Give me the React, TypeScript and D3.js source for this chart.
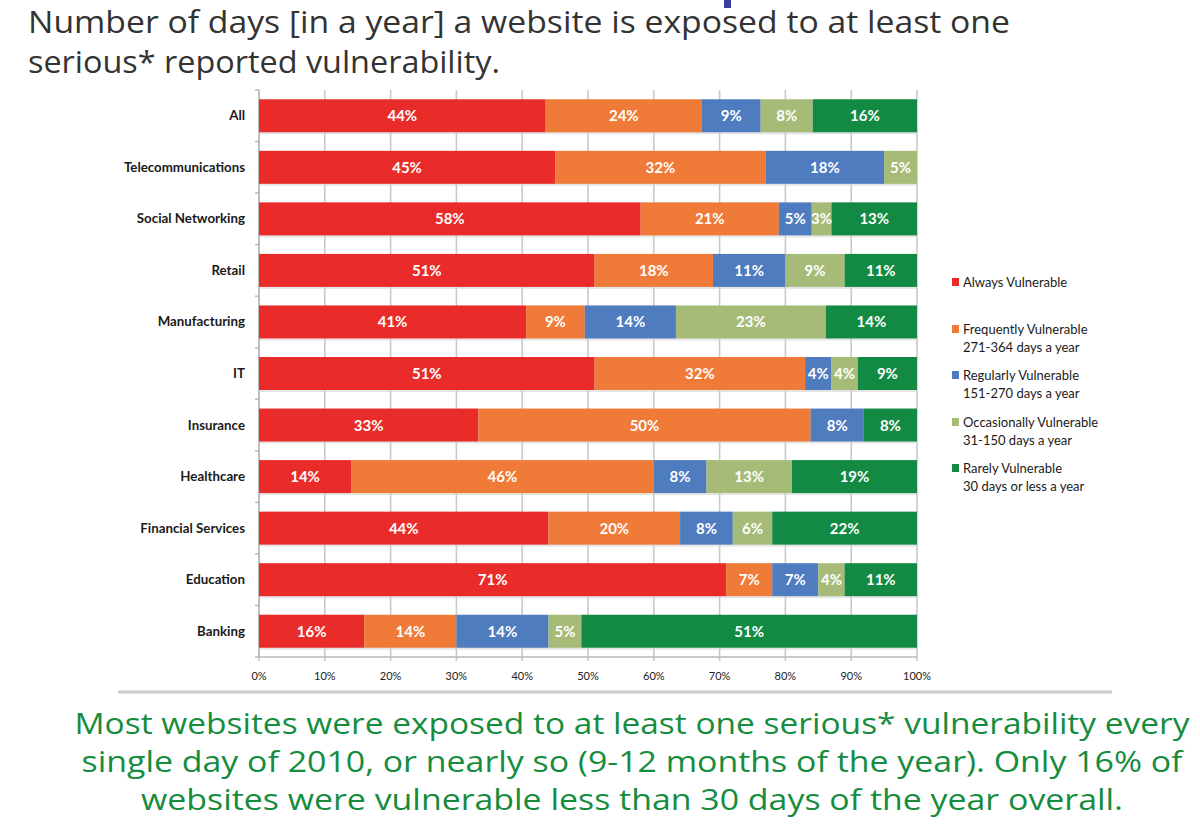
import React from "react";
import * as d3 from "d3";

const categories = [
  "All",
  "Telecommunications",
  "Social Networking",
  "Retail",
  "Manufacturing",
  "IT",
  "Insurance",
  "Healthcare",
  "Financial Services",
  "Education",
  "Banking",
];

const seriesKeys = ["always", "frequently", "regularly", "occasionally", "rarely"];

const always = [44, 45, 58, 51, 41, 51, 33, 14, 44, 71, 16];
const frequently = [24, 32, 21, 18, 9, 32, 50, 46, 20, 7, 14];
const regularly = [9, 18, 5, 11, 14, 4, 8, 8, 8, 7, 14];
const occasionally = [8, 5, 3, 9, 23, 4, 0, 13, 6, 4, 5];
const rarely = [16, 0, 13, 11, 14, 9, 8, 19, 22, 11, 51];

const legendLines = [
  ["Always Vulnerable"],
  ["Frequently Vulnerable", "271-364 days a year"],
  ["Regularly Vulnerable", "151-270 days a year"],
  ["Occasionally Vulnerable", "31-150 days a year"],
  ["Rarely Vulnerable", "30 days or less a year"],
];

const colors = ["#e92c29", "#f07a37", "#4f7bbf", "#a6bb78", "#128a44"];

const xTicks = [0, 0.1, 0.2, 0.3, 0.4, 0.5, 0.6, 0.7, 0.8, 0.9, 1];

const titleLines = [
  "Number of days [in a year] a website is exposed to at least one",
  "serious* reported vulnerability.",
];

const footerLines = [
  "Most websites were exposed to at least one serious* vulnerability every",
  "single day of 2010, or nearly so (9-12 months of the year). Only 16% of",
  "websites were vulnerable less than 30 days of the year overall.",
];

export default function App() {
  const W = 1200;
  const H = 831;
  const rows = categories.map((c, i) => ({
    category: c,
    always: always[i],
    frequently: frequently[i],
    regularly: regularly[i],
    occasionally: occasionally[i],
    rarely: rarely[i],
  }));
  const stack = d3.stack<any>().keys(seriesKeys).offset(d3.stackOffsetExpand);
  const stacked = stack(rows);

  const x = d3.scaleLinear().domain([0, 1]).range([259, 917]);
  const y = d3
    .scaleBand<string>()
    .domain(categories)
    .range([90, 657])
    .paddingInner(0.36)
    .paddingOuter(0.18);

  const font = "Lato, 'Open Sans', sans-serif";
  const gridColor = "#c9c9c9";
  const bandBounds = categories.map((_, i) => 90 + i * y.step()).concat([657]);

  return (
    <svg width={W} height={H} style={{ display: "block", position: "absolute", left: 0, top: 0 }}>
      <rect x={0} y={0} width={W} height={H} fill="#ffffff" />
      {/* cut-off mark at top */}
      <rect x={724} y={0} width={7} height={8} fill="#3a3f9e" />
      {/* title */}
      <text x={28} y={33} fontFamily="'Open Sans', sans-serif" fontSize={31} fill="#333333" textLength={982} lengthAdjust="spacingAndGlyphs">
        {titleLines[0]}
      </text>
      <text x={28} y={73} fontFamily="'Open Sans', sans-serif" fontSize={31} fill="#333333" textLength={472} lengthAdjust="spacingAndGlyphs">
        {titleLines[1]}
      </text>

      {/* gridlines */}
      {xTicks.map((t) => (
        <line key={"g" + t} x1={x(t)} x2={x(t)} y1={90} y2={661} stroke={gridColor} strokeWidth={1.6} />
      ))}
      {/* left axis */}
      <line x1={259} x2={259} y1={90} y2={657} stroke="#b8b8b8" strokeWidth={1.5} />
      {bandBounds.map((b, i) => (
        <line key={"yt" + i} x1={255} x2={259} y1={b} y2={b} stroke="#b8b8b8" strokeWidth={1.5} />
      ))}
      {/* bottom axis */}
      <line x1={259} x2={917} y1={657} y2={657} stroke="#b8b8b8" strokeWidth={1.5} />

      {/* bar shadows */}
      {categories.map((c) => (
        <rect key={"sh" + c} x={x(0)} y={(y(c) as number) + 2} width={x(1) - x(0)} height={y.bandwidth()} fill="#d4d4d4" opacity={0.6} />
      ))}

      {/* bars */}
      {stacked.map((s, si) =>
        s.map((d, i) => {
          const w = x(d[1]) - x(d[0]);
          if (w <= 0) return null;
          return (
            <rect
              key={si + "-" + i}
              x={x(d[0])}
              y={y(categories[i]) as number}
              width={w}
              height={y.bandwidth()}
              fill={colors[si]}
            />
          );
        })
      )}
      {/* bar labels */}
      {stacked.map((s, si) =>
        s.map((d, i) => {
          const v = (rows[i] as any)[seriesKeys[si]];
          if (!v) return null;
          const cx = (x(d[0]) + x(d[1])) / 2;
          return (
            <text
              key={"l" + si + "-" + i}
              x={cx}
              y={(y(categories[i]) as number) + y.bandwidth() / 2 + 5.5}
              textAnchor="middle"
              fontFamily={font}
              fontWeight={700}
              fontSize={15}
              fill="#ffffff"
            >
              {v + "%"}
            </text>
          );
        })
      )}

      {/* category labels */}
      {categories.map((c) => (
        <text
          key={"c" + c}
          x={245}
          y={(y(c) as number) + y.bandwidth() / 2 + 4.5}
          textAnchor="end"
          fontFamily={font}
          fontWeight={700}
          fontSize={13.3}
          fill="#1a1a1a"
        >
          {c}
        </text>
      ))}

      {/* x tick labels */}
      {xTicks.map((t) => (
        <text key={"xt" + t} x={x(t)} y={680} textAnchor="middle" fontFamily={font} fontSize={11} fill="#222222">
          {Math.round(t * 100) + "%"}
        </text>
      ))}

      {/* legend */}
      {legendLines.map((lines, i) => {
        const base = [287, 334, 380, 427, 473][i];
        return (
          <g key={"lg" + i}>
            <rect x={952} y={base - 9} width={7} height={8} fill={colors[i]} />
            {lines.map((ln, j) => (
              <text key={j} x={963} y={base + j * 17.5} fontFamily={font} fontSize={13} fill="#1a1a1a">
                {ln}
              </text>
            ))}
          </g>
        );
      })}

      {/* separator */}
      <line x1={118} x2={1112} y1={692} y2={692} stroke="#cccccc" strokeWidth={3} />

      {/* footer */}
      {footerLines.map((ln, i) => (
        <text
          key={"f" + i}
          x={632}
          y={[734, 772, 810][i]}
          textAnchor="middle"
          fontFamily="'Open Sans', sans-serif"
          fontSize={30}
          fill="#168c3e"
          textLength={[1115, 1101, 982][i]}
          lengthAdjust="spacingAndGlyphs"
        >
          {ln}
        </text>
      ))}
    </svg>
  );
}
